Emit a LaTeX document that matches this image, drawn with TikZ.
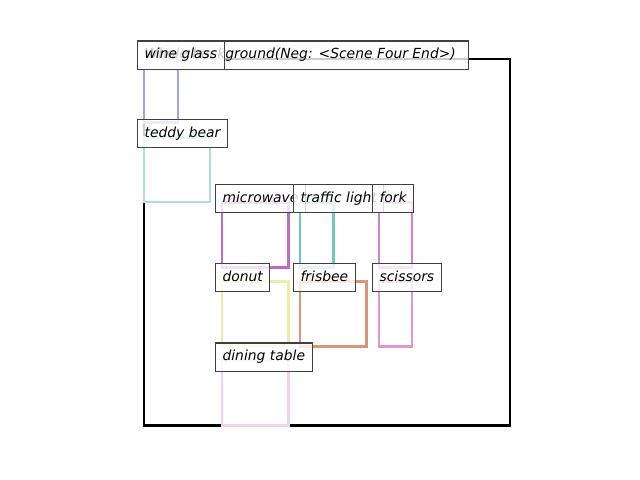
\documentclass[tikz,border=0pt]{standalone}
\usepackage{fontspec}
\setmainfont{DejaVu Sans}
\begin{document}
\begin{tikzpicture}[x=0.72pt,y=-0.72pt,
  bg/.style={draw=black,line width=1.7pt},
  obj/.style={line width=1.8pt},
  lbl/.style={anchor=base west,draw=black!75,line width=0.8pt,fill=white,fill opacity=0.8,text opacity=1,
    inner xsep=5.04pt,inner ysep=0pt,text height=12.6pt,text depth=7.63pt,
    font=\fontsize{10pt}{12pt}\itshape\selectfont}]
\definecolor{cwine}{RGB}{160,160,235}
\definecolor{cteddy}{RGB}{170,225,215}
\definecolor{cmicro}{RGB}{188,108,195}
\definecolor{ctraffic}{RGB}{112,200,185}
\definecolor{cfork}{RGB}{210,128,222}
\definecolor{cdonut}{RGB}{235,235,170}
\definecolor{cfrisbee}{RGB}{215,150,120}
\definecolor{cscissors}{RGB}{222,150,205}
\definecolor{ctable}{RGB}{242,210,235}
\useasboundingbox (0,0) rectangle (640,480);
% background box
\draw[bg] (144,59) rectangle (510,425.5);
% object boxes
\draw[obj,cwine] (144,59) rectangle (178,122.5);
\draw[obj,cteddy] (144,137.5) rectangle (210,202);
\draw[obj,cmicro] (222,202.5) rectangle (288.5,267.5);
\draw[obj,ctraffic] (300,202.5) rectangle (333.5,267.5);
\draw[obj,cfork] (379,202.5) rectangle (412,267.5);
\draw[obj,cdonut] (222,281.5) rectangle (288.5,346.5);
\draw[obj,cfrisbee] (300,281.5) rectangle (366.5,346.5);
\draw[obj,cscissors] (379,281.5) rectangle (412,346.5);
\draw[obj,ctable] (222,361) rectangle (288.5,425.5);
% labels
\node[lbl] (lbg) at (137,58.5) {Whole background(Neg: <Scene Four End>)\kern 4.3pt};
\node[lbl] (lwine) at (137,58.5) {wine glass};
\node[lbl] (lteddy) at (137,137) {teddy bear};
\node[lbl] (lmicro) at (215,202) {microwave};
\node[lbl] (ltraffic) at (293,202) {traffic light};
\node[lbl] (lfork) at (372,202) {fork};
\node[lbl] (ldonut) at (215,281) {donut};
\node[lbl] (lfrisbee) at (293,281) {frisbee};
\node[lbl] (lscissors) at (372,281) {scissors};
\node[lbl] (ltable) at (215,360.5) {dining table};
\end{tikzpicture}
\end{document}
